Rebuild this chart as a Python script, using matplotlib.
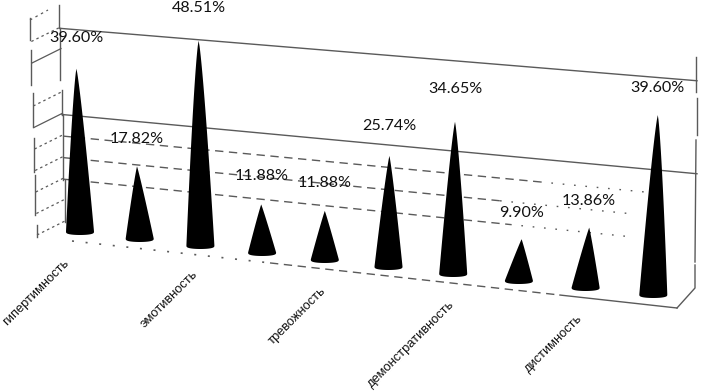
#coding: utf-8
import matplotlib
matplotlib.use('Agg')
import matplotlib.pyplot as plt
import numpy as np

# percent values, one cone per trait
values = [39.60, 17.82, 48.51, 11.88, 11.88, 25.74, 34.65, 9.90, 13.86, 39.60]
value_labels = ['39.60%', '17.82%', '48.51%', '11.88%', '11.88%',
	'25.74%', '34.65%', '9.90%', '13.86%', '39.60%']
# only every other category has its name printed
tick_index = [0, 2, 4, 6, 8]
tick_labels = ['гипертимность', 'эмотивность', 'тревожность',
	'демонстративность', 'дистимность']
axis_ticks = [0, 5, 10, 15, 20, 25, 30, 35, 40, 45, 50]

plt.rcParams['font.family'] = ['Liberation Sans', 'DejaVu Sans']

W, H = 703, 391
fig = plt.figure(figsize=(W/100, H/100), dpi=100)
ax = fig.add_axes([0, 0, 1, 1])
ax.set_xlim(0, W)
ax.set_ylim(H, 0)
ax.axis('off')

GRID = '#5a5a5a'

# fake 3d: floor and walls in the perspective of the picture
def cone_x(i):
	return 80 + 59.2*i + 0.5*i*i

def cone_y(i):
	return 235 + 7*i

def cone_scale(i):
	return 4.2 + 0.42*i/9

def back_y(x, v):
	# height on the back wall, t goes from left to right wall
	t = (x-62)/(697-62)
	return (222 + 68*t) - (4.3 + 0.35*t)*v

def side_x(v):
	return 37 - 0.125*v

def side_y(v):
	return 235 - 4.3*v

def wall_x(v):
	return 65 - 0.1*v

def grid_part(v, x0, x1, ls, lw=1.0):
	xs = np.array([x0, x1])
	ax.plot(xs, back_y(xs, v), color=GRID, ls=ls, lw=lw, zorder=1)

DASH = (0, (6, 4))
DOT = (0, (1.2, 7))

# lines on the back wall
grid_part(45, 60, 697, '-', 1.0)
grid_part(25, 62, 697, '-', 1.0)
grid_part(20, 63, 540, DASH)
grid_part(20, 540, 650, DOT)
grid_part(15, 63, 500, DASH)
grid_part(15, 500, 632, DOT)
grid_part(10, 63, 510, DASH)
grid_part(10, 510, 632, DOT)

# left side wall, the ticks run over to the back wall
for v in axis_ticks:
	if v == 35:
		continue
	solid = v in [25, 40]
	if v == 50:
		ax.plot([30, 48], [20, 10], color=GRID, ls=(0, (2, 3)), lw=0.9, zorder=1)
		continue
	ax.plot([side_x(v), wall_x(v)], [side_y(v), side_y(v)-14-v*0.01], color=GRID,
		ls='-' if solid else (0, (2, 2.5)), lw=0.9, zorder=1)

for y0, y1, x0, x1 in [(18, 40, 30, 30), (50, 85, 31, 31), (93, 127, 33, 33),
		(138, 172, 34, 34), (175, 215, 35, 35), (225, 237, 37, 37)]:
	ax.plot([x0, x1], [y0, y1], color=GRID, lw=1.0, zorder=1)
for y0, y1, x0, x1 in [(5, 28, 59, 59), (28, 80, 60, 60), (90, 115, 62, 62),
		(115, 180, 63, 63), (180, 222, 65, 65)]:
	ax.plot([x0, x1], [y0, y1], color=GRID, lw=1.0, zorder=1)

# right wall and floor
ax.plot([696, 696], [57, 92], color=GRID, lw=1.0, zorder=1)
ax.plot([697, 697], [98, 135], color=GRID, lw=1.0, zorder=1)
ax.plot([696, 695], [140, 262], color=GRID, lw=1.0, zorder=1)
ax.plot([695, 695, 677], [265, 288, 308], color=GRID, lw=1.0, zorder=1)
floor_x = np.array([72, 270, 560, 677])
floor_y = 241 + (floor_x-72)*67/605
ax.plot(floor_x[:2], floor_y[:2], color=GRID, ls=DOT, lw=1.2, zorder=1)
ax.plot(floor_x[1:3], floor_y[1:3], color=GRID, ls=DASH, lw=1.0, zorder=1)
ax.plot(floor_x[2:], floor_y[2:], color=GRID, lw=1.0, zorder=1)

# cones
def draw_cone(i, v):
	cx = cone_x(i)
	bottom = cone_y(i)
	top = bottom - cone_scale(i)*v
	mid = bottom - 3.5
	tip_x = cx + (i-4)*0.9
	ys = np.linspace(top, mid, 40)
	t = (ys-top)/(mid-top)
	# tall cones are a bit fatter in the middle, short ones are straight
	hw = 14*t**(1.0 - 0.25*(mid-top)/210)
	centre = tip_x + (cx-tip_x)*t
	ang = np.linspace(0, np.pi, 30)
	px = np.concatenate([centre-hw, cx+14*np.cos(np.pi-ang), (centre+hw)[::-1]])
	py = np.concatenate([ys, mid+3.5*np.sin(ang)**0.6, ys[::-1]])
	ax.fill(px, py, color='black', lw=0, zorder=3)
	return tip_x, top

label_dy = [31, 27, 33, 28, 28, 30, 33, 26, 27, 27]
for i, v in enumerate(values):
	tip_x, top = draw_cone(i, v)
	ax.text(tip_x, top-label_dy[i], value_labels[i], ha='center', va='center', fontsize=11.6,
		family=['Lato', 'DejaVu Sans'], color='#111111', zorder=4)

label_shift = [-17, -9, -5, -5, -9]
label_drop = [22, 19, 22, 22, 22]
for k, i in enumerate(tick_index):
	ax.text(cone_x(i)+label_shift[k], cone_y(i)+label_drop[k], tick_labels[k], rotation=45, ha='right', va='top',
		rotation_mode='anchor', fontsize=9.3, color='#111111', zorder=4)

fig.savefig('out.png', dpi=100)
plt.close()
